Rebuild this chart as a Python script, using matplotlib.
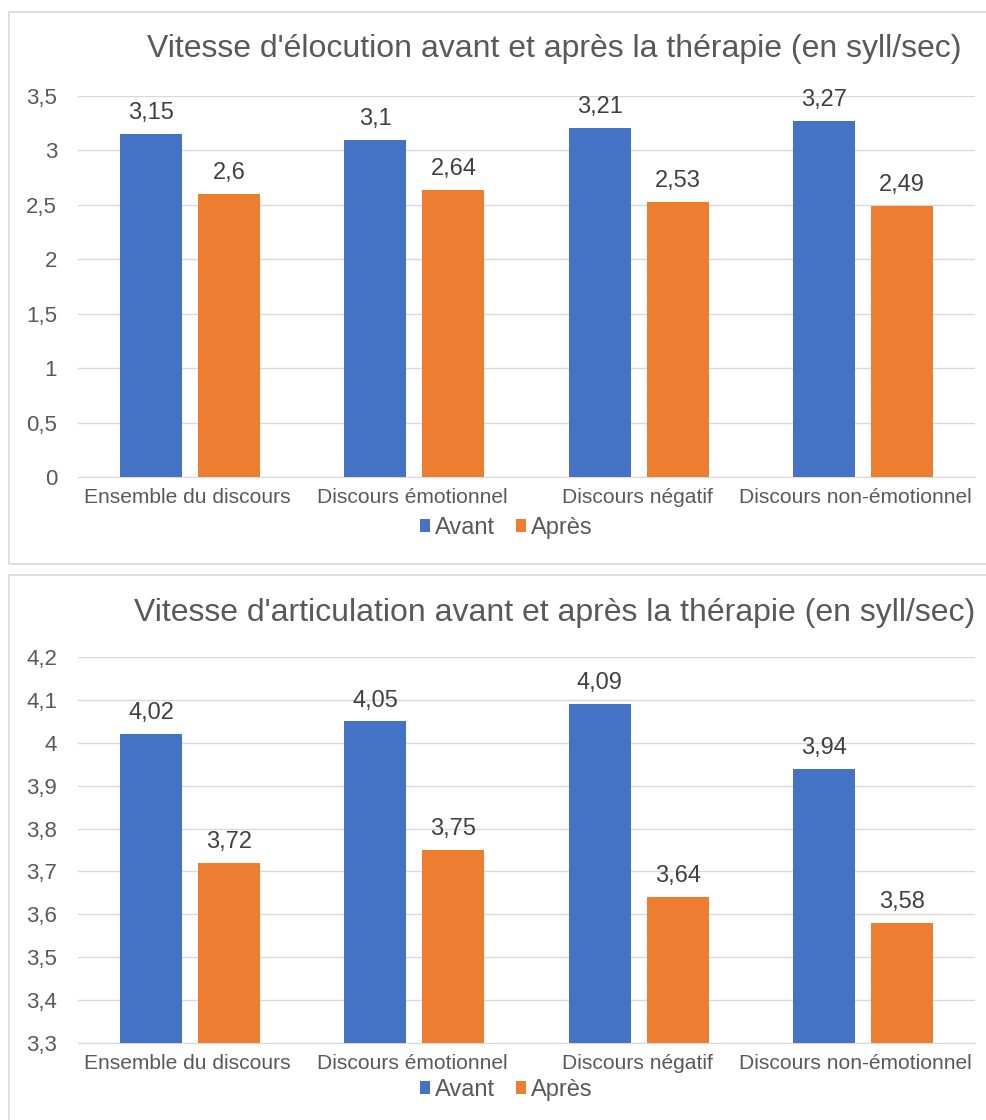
import matplotlib.pyplot as plt
from matplotlib.patches import Rectangle
from matplotlib.ticker import FuncFormatter, MultipleLocator
from matplotlib.transforms import ScaledTranslation
import numpy as np

# ---------------------------
# DONNEES
# ---------------------------
categories = ["Ensemble du discours", "Discours émotionnel",
              "Discours négatif", "Discours non-émotionnel"]
series = ["Avant", "Après"]

elocution_avant = [3.15, 3.10, 3.21, 3.27]
elocution_apres = [2.60, 2.64, 2.53, 2.49]

articulation_avant = [4.02, 4.05, 4.09, 3.94]
articulation_apres = [3.72, 3.75, 3.64, 3.58]

titre_haut = "Vitesse d'élocution avant et après la thérapie (en syll/sec)"
titre_bas = "Vitesse d'articulation avant et après la thérapie (en syll/sec)"

BLEU = "#4472C4"
ORANGE = "#ED7D31"
GRILLE = "#D9D9D9"
TEXTE = "#595959"

plt.rcParams['font.family'] = ['Liberation Sans', 'DejaVu Sans']


def virgule(v):
    return "{:g}".format(round(v, 2)).replace(".", ",")


def graphique(fig, rect, avant, apres, ymin, ymax, pas, titre, titre_y, legende_y):
    ax = fig.add_axes(rect)
    x = np.arange(len(categories))
    w = 0.277
    off = 0.174
    b1 = ax.bar(x - off, avant, w, color=BLEU, label=series[0], zorder=3)
    b2 = ax.bar(x + off, apres, w, color=ORANGE, label=series[1], zorder=3)
    for b in (b1, b2):
        ax.bar_label(b, labels=[virgule(v) for v in b.datavalues],
                     padding=7, fontsize=17, color="#404040")
    ax.set_xlim(-0.5, len(categories) - 0.5)
    ax.set_ylim(ymin, ymax)
    ax.yaxis.set_major_locator(MultipleLocator(pas))
    ax.yaxis.set_major_formatter(FuncFormatter(lambda v, p: virgule(v)))
    ax.set_xticks(x)
    ax.set_xticklabels(categories)
    ax.tick_params(axis="both", length=0, colors=TEXTE)
    ax.tick_params(axis="x", pad=8, labelsize=15.1)
    ax.tick_params(axis="y", pad=15, labelsize=16)
    # Excel decale un peu les etiquettes, la derniere reste dans le cadre
    decalages = [-3, -2, -1, -7]
    for lab, d in zip(ax.get_xticklabels(), decalages):
        lab.set_transform(lab.get_transform() +
                          ScaledTranslation(d / 100, 0, fig.dpi_scale_trans))
    ax.grid(axis="y", color=GRILLE, linewidth=1, zorder=0)
    for s in ["top", "right", "left"]:
        ax.spines[s].set_visible(False)
    ax.spines["bottom"].set_color(GRILLE)
    ax.set_axisbelow(True)
    fig.text(0.5615, titre_y, titre, ha="center", va="center",
             fontsize=23, color=TEXTE)
    fig.legend(handles=[b1, b2], loc="center", bbox_to_anchor=(0.513, legende_y),
               ncol=2, frameon=False, fontsize=17, handlelength=0.42,
               handleheight=0.42, handletextpad=0.25, columnspacing=0.85,
               labelcolor=TEXTE)
    return ax


fig = plt.figure(figsize=(9.87, 11.2), dpi=100)

# cadres des deux graphiques
fig.patches.append(Rectangle((9 / 987, 1 - 564 / 1120), 1.0, 552 / 1120,
                             transform=fig.transFigure, fill=False,
                             edgecolor=GRILLE, linewidth=1.2))
fig.patches.append(Rectangle((9 / 987, -0.01), 1.0, 1 - 575 / 1120 + 0.01,
                             transform=fig.transFigure, fill=False,
                             edgecolor=GRILLE, linewidth=1.2))

graphique(fig, [78 / 987, 1 - 477 / 1120, 897 / 987, 381 / 1120],
          elocution_avant, elocution_apres, 0, 3.5, 0.5,
          titre_haut, 1 - 49 / 1120, 1 - 528 / 1120)
graphique(fig, [78 / 987, 1 - 1043 / 1120, 897 / 987, 386 / 1120],
          articulation_avant, articulation_apres, 3.3, 4.2, 0.1,
          titre_bas, 1 - 613 / 1120, 1 - 1090 / 1120)

plt.savefig("out.png", dpi=100)
